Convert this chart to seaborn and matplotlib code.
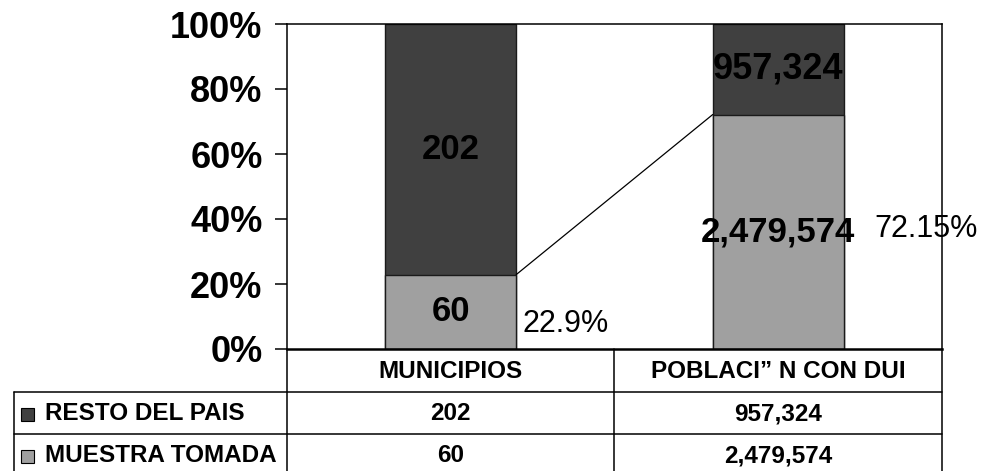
import numpy as np
import pandas as pd
import matplotlib
matplotlib.use("Agg")
import matplotlib.pyplot as plt
import matplotlib.transforms as mtransforms
from matplotlib.lines import Line2D
from matplotlib.patches import Rectangle
from matplotlib.ticker import PercentFormatter
import seaborn as sns

# ---- data ----
categories = ["MUNICIPIOS", "POBLACI\u201d N CON DUI"]
series_names = ["RESTO DEL PAIS", "MUESTRA TOMADA"]
resto = [202, 957324]
muestra = [60, 2479574]
yticks = [0, 20, 40, 60, 80, 100]

colors = {"RESTO DEL PAIS": "#404040", "MUESTRA TOMADA": "#a0a0a0"}

totals = [r + m for r, m in zip(resto, muestra)]
muestra_pct = [100 * m / t for m, t in zip(muestra, totals)]
df = pd.DataFrame({"cat": categories, "total": [100.0] * 2, "muestra": muestra_pct})

sns.set_theme(style="white")
plt.rcParams["font.family"] = ["Liberation Sans", "DejaVu Sans"]

W, H = 998, 471
fig = plt.figure(figsize=(W / 100, H / 100), dpi=100)
# axes box in pixels: left 287, right 942, top 24, bottom 349
ax = fig.add_axes([287 / W, 1 - 349 / H, (942 - 287) / W, (349 - 24) / H])

sns.barplot(data=df, x="cat", y="total", color=colors["RESTO DEL PAIS"], width=0.4,
            edgecolor="#1a1a1a", linewidth=1.0, saturation=1, ax=ax)
sns.barplot(data=df, x="cat", y="muestra", color=colors["MUESTRA TOMADA"], width=0.4,
            edgecolor="#1a1a1a", linewidth=1.0, saturation=1, ax=ax)

ax.set_xlim(-0.5, 1.5)
ax.set_ylim(0, 100)
ax.set_xlabel("")
ax.set_ylabel("")
ax.set_yticks(yticks)
ax.yaxis.set_major_formatter(PercentFormatter(decimals=0))
ax.tick_params(axis="x", length=0, labelbottom=False)
ax.tick_params(axis="y", left=True, direction="out", length=8.6, width=1.1,
               color="black", pad=9, labelsize=26, labelcolor="black")
for lbl in ax.get_yticklabels():
    lbl.set_fontweight("bold")
for s in ax.spines.values():
    s.set_visible(True)
    s.set_color("black")
    s.set_linewidth(1.1)
ax.spines["bottom"].set_linewidth(1.8)

# connector line between tops of the sample segments
half = 0.2
ax.plot([0 + half, 1 - half], [muestra_pct[0], muestra_pct[1]], color="black", lw=0.9, zorder=3)

# value labels inside bars
for i in range(2):
    ax.text(i, muestra_pct[i] / 2, f"{muestra[i]:,}", ha="center", va="center",
            fontsize=25, fontweight="bold", color="black", zorder=4)
    ax.text(i, (100 + muestra_pct[i]) / 2, f"{resto[i]:,}", ha="center", va="center",
            fontsize=26 if i == 1 else 25, fontweight="bold", color="black", zorder=4)

# percentage labels
pct_text = [f"{p:.2f}".rstrip("0").rstrip(".") + "%" for p in muestra_pct]
offsets = [(6, -12), (31, 3)]
for i in range(2):
    ax.annotate(pct_text[i], xy=(i + half, muestra_pct[i] / 2), xytext=offsets[i],
                textcoords="offset pixels", ha="left", va="center", fontsize=22,
                color="black", annotation_clip=False, zorder=5)

# ---- data table below the axes ----
def fy(py):
    return 1 - py / H

def fx(px):
    return px / W

lw = 1.1
def hline(x0, x1, y):
    fig.add_artist(Line2D([fx(x0), fx(x1)], [fy(y), fy(y)], color="black", lw=lw))

def vline(x, y0, y1):
    fig.add_artist(Line2D([fx(x), fx(x)], [fy(y0), fy(y1)], color="black", lw=lw))

hline(14, 942, 392)
hline(14, 942, 434)
vline(14, 392, 471)
vline(287, 349, 471)
vline(614, 349, 471)
vline(942, 349, 471)

blend = mtransforms.blended_transform_factory(ax.transData, fig.transFigure)
for i, c in enumerate(categories):
    ax.text(i, fy(371), c, transform=blend, ha="center", va="center",
            fontsize=17.5, fontweight="bold", color="black")
    ax.text(i, fy(414), f"{resto[i]:,}", transform=blend, ha="center", va="center",
            fontsize=17.5, fontweight="bold", color="black")
    ax.text(i, fy(456), f"{muestra[i]:,}", transform=blend, ha="center", va="center",
            fontsize=17.5, fontweight="bold", color="black")

row_y = [414, 456]
for name, yy in zip(series_names, row_y):
    fig.add_artist(Rectangle((fx(21), fy(yy + 6.5)), 13 / W, 13 / H,
                             facecolor=colors[name], edgecolor="black", lw=0.8,
                             transform=fig.transFigure))
    fig.text(fx(45), fy(yy), name, ha="left", va="center", fontsize=17.5,
             fontweight="bold", color="black")

fig.savefig("out.png", dpi=100)
